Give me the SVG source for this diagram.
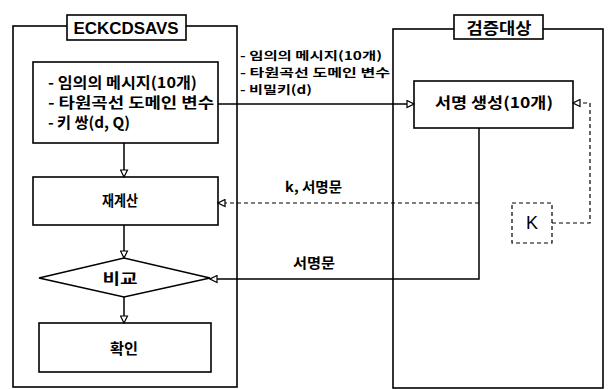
<svg xmlns="http://www.w3.org/2000/svg" width="608" height="389" viewBox="0 0 608 389">
<style>
.box{fill:#fff;stroke:#000;stroke-width:1.6}
.cont{fill:none;stroke:#000;stroke-width:1.6}
.ln{fill:none;stroke:#000;stroke-width:1.5}
.dash{fill:none;stroke:#000;stroke-width:1.2;stroke-dasharray:4 3}
.kr{font-family:"Noto Sans CJK KR","Liberation Sans",sans-serif;font-weight:bold;fill:#000}
.en{font-family:"Liberation Sans",Arial,sans-serif;font-weight:bold;fill:#000}
</style>
<defs>
<marker id="ah" markerWidth="9" markerHeight="9" refX="8" refY="4.5" orient="auto" markerUnits="userSpaceOnUse">
<path d="M1,1 L8,4.5 L1,8 z" fill="#fff" stroke="#000" stroke-width="1.2"/>
</marker>
</defs>
<rect width="608" height="389" fill="#fff"/>
<g id="container-left">
<rect class="cont" x="13" y="26" width="224" height="361"/>
<rect class="box" x="67" y="15" width="119" height="25"/>
<text class="en" x="126" y="33.5" font-size="17" text-anchor="middle" textLength="105" lengthAdjust="spacingAndGlyphs">ECKCDSAVS</text>
</g>
<g id="container-right">
<rect class="cont" x="393" y="29" width="210" height="359"/>
<rect class="box" x="454" y="15" width="89" height="24"/>
<text class="kr" x="499" y="34" font-size="16" text-anchor="middle" textLength="65" lengthAdjust="spacingAndGlyphs">검증대상</text>
</g>
<g id="node-input">
<rect class="box" x="33" y="62" width="185" height="81"/>
<text class="kr" x="48" y="88" font-size="15" textLength="149" lengthAdjust="spacingAndGlyphs">- 임의의 메시지(10개)</text>
<text class="kr" x="48" y="108" font-size="15" textLength="166" lengthAdjust="spacingAndGlyphs">- 타원곡선 도메인 변수</text>
<text class="kr" x="48" y="128" font-size="15" textLength="82" lengthAdjust="spacingAndGlyphs">- 키 쌍(d, Q)</text>
</g>
<g id="node-recalc">
<rect class="box" x="33" y="177" width="185" height="48"/>
<text class="kr" x="120" y="206" font-size="15" text-anchor="middle" textLength="36" lengthAdjust="spacingAndGlyphs">재계산</text>
</g>
<g id="node-compare">
<polygon class="box" points="39,278 124,258 210,278 124,297"/>
<text class="kr" x="120" y="284" font-size="15" text-anchor="middle" textLength="35" lengthAdjust="spacingAndGlyphs">비교</text>
</g>
<g id="node-confirm">
<rect class="box" x="39" y="323" width="172" height="49"/>
<text class="kr" x="124" y="354" font-size="15" text-anchor="middle" textLength="28" lengthAdjust="spacingAndGlyphs">확인</text>
</g>
<g id="node-sign">
<rect class="box" x="414" y="81" width="159" height="47"/>
<text class="kr" x="494" y="108" font-size="15" text-anchor="middle" textLength="118" lengthAdjust="spacingAndGlyphs">서명 생성(10개)</text>
</g>
<g id="node-K">
<rect fill="#fff" class="dash" x="512" y="203" width="40" height="40"/>
<text x="532" y="229" font-family="Liberation Sans, Arial, sans-serif" font-size="18" text-anchor="middle">K</text>
</g>
<g id="connectors">
<line class="ln" x1="124" y1="143" x2="124" y2="177" marker-end="url(#ah)"/>
<line class="ln" x1="124" y1="225" x2="124" y2="258" marker-end="url(#ah)"/>
<line class="ln" x1="124" y1="297" x2="124" y2="323" marker-end="url(#ah)"/>
<line class="ln" x1="218" y1="104" x2="414" y2="104" marker-end="url(#ah)"/>
<polyline class="ln" points="479,128 479,279 210,279" marker-end="url(#ah)"/>
<line class="dash" x1="479" y1="203" x2="218" y2="203" marker-end="url(#ah)"/>
<polyline class="dash" points="552,223 590,223 590,103 573,103" marker-end="url(#ah)"/>
<text class="kr" x="240" y="59.5" font-size="11.5" textLength="142" lengthAdjust="spacingAndGlyphs">- 임의의 메시지(10개)</text>
<text class="kr" x="240" y="76.5" font-size="11.5" textLength="150" lengthAdjust="spacingAndGlyphs">- 타원곡선 도메인 변수</text>
<text class="kr" x="240" y="93.5" font-size="11.5" textLength="72" lengthAdjust="spacingAndGlyphs">- 비밀키(d)</text>
<text class="kr" x="285" y="192" font-size="14" textLength="57" lengthAdjust="spacingAndGlyphs">k, 서명문</text>
<text class="kr" x="293" y="268" font-size="14" textLength="42" lengthAdjust="spacingAndGlyphs">서명문</text>
</g>
</svg>
